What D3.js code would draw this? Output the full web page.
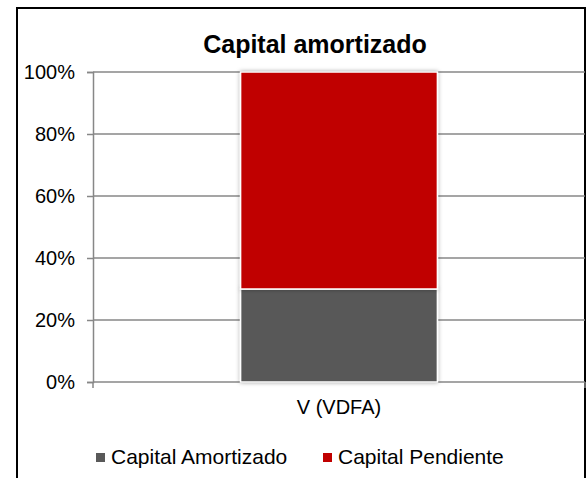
<!DOCTYPE html>
<html>
<head>
<meta charset="utf-8">
<script src="https://cdn.jsdelivr.net/npm/d3@7"></script>
<style>
  body { margin: 0; background: #fff; }
  text { font-family: "Liberation Sans", Arial, sans-serif; fill: #000; }
</style>
</head>
<body>
<div id="chart"></div>
<script>
// data
var categories = ["V (VDFA)"];
var seriesNames = ["Capital Amortizado", "Capital Pendiente"];
var amortizado = [0.30];
var pendiente = [0.70];
var tickValues = [0, 0.2, 0.4, 0.6, 0.8, 1];
var colors = ["#595959", "#C00000"];

var W = 587, H = 478;
var plot = {left: 93, right: 585, top: 72, bottom: 382};

var svg = d3.select("#chart").append("svg")
    .attr("width", W)
    .attr("height", H);

var defs = svg.append("defs");
var f = defs.append("filter").attr("id", "shadow")
    .attr("x", "-10%").attr("y", "-10%").attr("width", "120%").attr("height", "120%");
f.append("feDropShadow").attr("dx", 0).attr("dy", 0)
    .attr("stdDeviation", 2).attr("flood-color", "#000").attr("flood-opacity", 0.35);

// outer border
svg.append("rect")
    .attr("x", 17).attr("y", 8)
    .attr("width", 568).attr("height", 490)
    .attr("fill", "none")
    .attr("stroke", "#000")
    .attr("stroke-width", 2);

// scales
var x = d3.scaleBand()
    .domain(categories)
    .range([plot.left, plot.right])
    .paddingInner(0)
    .paddingOuter(0.75);
var y = d3.scaleLinear()
    .domain([0, 1])
    .range([plot.bottom, plot.top]);

// gridlines
svg.append("g").selectAll("line.grid")
    .data(tickValues)
    .enter().append("line")
    .attr("class", "grid")
    .attr("x1", plot.left).attr("x2", plot.right)
    .attr("y1", function(d) { return y(d); })
    .attr("y2", function(d) { return y(d); })
    .attr("stroke", "#878787")
    .attr("stroke-width", 1.5);

// stack the two series
var rows = categories.map(function(c, i) {
  return {cat: c, a: amortizado[i], p: pendiente[i]};
});
var stacked = d3.stack().keys(["a", "p"])(rows);

svg.append("g").selectAll("g.series")
    .data(stacked)
    .enter().append("g")
    .attr("class", "series")
    .attr("fill", function(d, i) { return colors[i]; })
    .selectAll("rect")
    .data(function(d) { return d; })
    .enter().append("rect")
    .attr("x", function(d) { return x(d.data.cat); })
    .attr("width", x.bandwidth())
    .attr("y", function(d) { return y(d[1]); })
    .attr("height", function(d) { return y(d[0]) - y(d[1]); })
    .attr("stroke", "#fff")
    .attr("stroke-width", 1.5)
    .attr("filter", "url(#shadow)");

// y axis
var yAxis = svg.append("g")
    .attr("transform", "translate(" + plot.left + ",0)")
    .call(d3.axisLeft(y)
        .tickValues(tickValues)
        .tickSize(6)
        .tickPadding(12)
        .tickFormat(d3.format(".0%")));
yAxis.select(".domain").attr("stroke", "#878787").attr("stroke-width", 1.5);
yAxis.selectAll(".tick line").attr("stroke", "#878787").attr("stroke-width", 1.5);
yAxis.selectAll("text")
    .style("font-size", "20px")
    .style("font-family", "'Liberation Sans', Arial, sans-serif");

// x axis
var xAxis = svg.append("g")
    .attr("transform", "translate(0," + plot.bottom + ")")
    .call(d3.axisBottom(x).tickSize(0).tickPadding(18));
xAxis.select(".domain").remove();
xAxis.selectAll("text")
    .style("font-size", "20px")
    .style("font-family", "'Liberation Sans', Arial, sans-serif");
xAxis.selectAll("line.edge")
    .data(x.range())
    .enter().append("line")
    .attr("class", "edge")
    .attr("x1", function(d) { return d; }).attr("x2", function(d) { return d; })
    .attr("y1", 0).attr("y2", 6)
    .attr("stroke", "#878787").attr("stroke-width", 1.5);

// title
svg.append("text")
    .attr("x", 315).attr("y", 53)
    .attr("text-anchor", "middle")
    .style("font-size", "25px")
    .style("font-weight", "bold")
    .text("Capital amortizado");

// legend
var legendX = [96, 323];
var lg = svg.append("g").selectAll("g.leg")
    .data(seriesNames)
    .enter().append("g")
    .attr("class", "leg")
    .attr("transform", function(d, i) { return "translate(" + legendX[i] + ",453)"; });
lg.append("rect")
    .attr("width", 9).attr("height", 9)
    .attr("fill", function(d, i) { return colors[i]; });
lg.append("text")
    .attr("x", 15).attr("y", 11)
    .style("font-size", "21px")
    .text(function(d) { return d; });
</script>
</body>
</html>
